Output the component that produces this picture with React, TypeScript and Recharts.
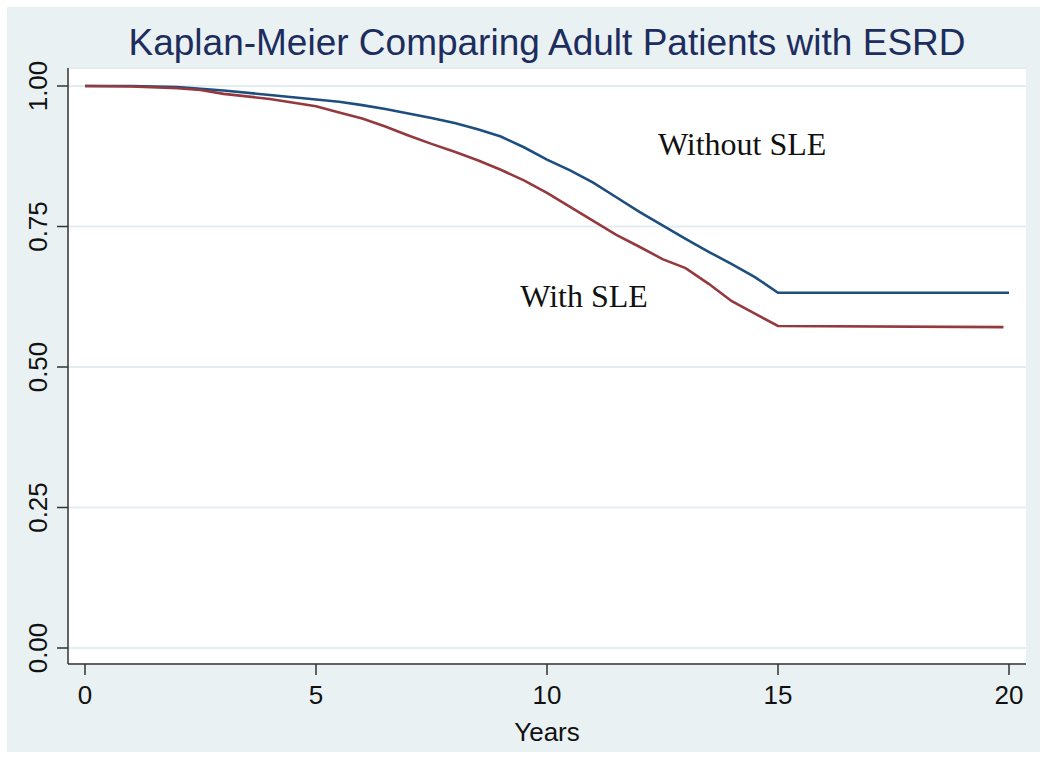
import { LineChart, Line, XAxis, YAxis, CartesianGrid, ReferenceDot } from 'recharts'

// Kaplan-Meier survival
const withoutYears = [0, 1, 2, 3, 4, 5, 5.5, 6, 6.5, 7, 7.5, 8, 8.5, 9, 9.5, 10, 10.5, 11, 11.5, 12, 12.5, 13, 13.5, 14, 14.5, 15, 20]
const withoutSurv = [1.0, 1.0, 0.998, 0.992, 0.984, 0.976, 0.972, 0.966, 0.959, 0.951, 0.943, 0.934, 0.923, 0.91, 0.891, 0.869, 0.85, 0.828, 0.802, 0.776, 0.752, 0.728, 0.705, 0.683, 0.66, 0.632, 0.632]

const withYears = [0, 1, 2, 2.5, 3, 4, 5, 5.5, 6, 6.5, 7, 7.5, 8, 8.5, 9, 9.5, 10, 10.5, 11, 11.5, 12, 12.5, 13, 13.5, 14, 14.5, 15, 19.88]
const withSurv = [1.0, 0.999, 0.996, 0.993, 0.986, 0.977, 0.964, 0.953, 0.942, 0.928, 0.912, 0.897, 0.883, 0.868, 0.851, 0.832, 0.81, 0.785, 0.76, 0.735, 0.714, 0.692, 0.676, 0.648, 0.617, 0.595, 0.573, 0.571]

const xTicks = [0, 5, 10, 15, 20]
const yTicks = [0, 0.25, 0.5, 0.75, 1]

const notes = [
  { text: 'Without SLE', t: 12.4, s: 0.877 },
  { text: 'With SLE', t: 9.42, s: 0.607 },
]

const withoutData = withoutYears.map((t, i) => ({ t, s: withoutSurv[i] }))
const withData = withYears.map((t, i) => ({ t, s: withSurv[i] }))

const SANS = '"Liberation Sans", Arial, Helvetica, sans-serif'
const AXIS = '#333333'

const YTick = ({ x, y, payload }: any) => (
  <text
    x={x}
    y={y}
    transform={`rotate(-90 ${x} ${y})`}
    textAnchor="middle"
    fontFamily={SANS}
    fontSize={26}
    fill="#111"
  >
    {payload.value.toFixed(2)}
  </text>
)

const Note = (text: string) => (props: any) => (
  <text x={props.cx} y={props.cy} fontFamily='"Liberation Serif", "Times New Roman", serif' fontSize={32} fill="#111">
    {text}
  </text>
)

export default function App() {
  return (
    <div style={{ position: 'absolute', left: 0, top: 0, width: 1050, height: 765, background: '#fff' }}>
      <div style={{ position: 'absolute', left: 7, top: 7, width: 1033, height: 745, background: '#EAF1F3' }} />
      <div
        style={{
          position: 'absolute',
          left: 68,
          top: 24,
          width: 958,
          textAlign: 'center',
          fontFamily: SANS,
          fontSize: 37,
          lineHeight: '37px',
          color: '#1C2D5E',
          whiteSpace: 'nowrap',
        }}
      >
        Kaplan-Meier Comparing Adult Patients with ESRD
      </div>
      <div style={{ position: 'absolute', left: 0, top: 0 }}>
        <LineChart width={1050} height={765} margin={{ top: 68, right: 24, bottom: 11, left: 8 }}>
          <CartesianGrid vertical={false} stroke="#E3EDF0" strokeWidth={2} fill="#ffffff" />
          <XAxis
            type="number"
            dataKey="t"
            domain={[0, 20]}
            ticks={xTicks}
            padding={{ left: 17, right: 17 }}
            height={90}
            tickSize={11}
            tickMargin={11}
            stroke={AXIS}
            strokeWidth={1.5}
            tick={{ fontFamily: SANS, fontSize: 26, fill: '#111' }}
            allowDuplicatedCategory={false}
            label={{ value: 'Years', position: 'insideBottom', offset: 13, fontFamily: SANS, fontSize: 26, fill: '#111' }}
          />
          <YAxis
            type="number"
            domain={[0, 1]}
            ticks={yTicks}
            padding={{ top: 18, bottom: 16 }}
            width={60}
            tickSize={11}
            tickMargin={10}
            stroke={AXIS}
            strokeWidth={1.5}
            tick={<YTick />}
          />
          <Line data={withoutData} dataKey="s" type="linear" stroke="#1D4E7E" strokeWidth={2.6} dot={false} isAnimationActive={false} />
          <Line data={withData} dataKey="s" type="linear" stroke="#943A3F" strokeWidth={2.6} dot={false} isAnimationActive={false} />
          {notes.map((n) => (
            <ReferenceDot key={n.text} x={n.t} y={n.s} r={0} ifOverflow="visible" shape={Note(n.text)} />
          ))}
        </LineChart>
      </div>
    </div>
  )
}
